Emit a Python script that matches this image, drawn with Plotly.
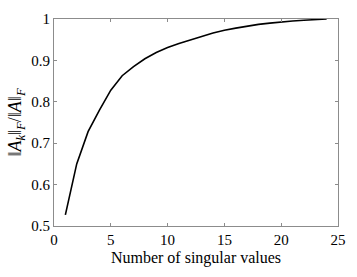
import plotly.graph_objects as go

k_values = list(range(1, 25))
ratio = [0.527, 0.650, 0.728, 0.780, 0.828, 0.863, 0.885, 0.904, 0.919, 0.931,
         0.941, 0.950, 0.958, 0.966, 0.973, 0.978, 0.983, 0.987, 0.990, 0.993,
         0.995, 0.997, 0.999, 1.000]
x_ticks = [0, 5, 10, 15, 20, 25]
y_ticks = [0.5, 0.6, 0.7, 0.8, 0.9, 1]
y_tick_text = ["0.5", "0.6", "0.7", "0.8", "0.9", "1"]

SERIF = "Liberation Serif"

fig = go.Figure()
fig.add_trace(go.Scatter(x=k_values, y=ratio, mode="lines",
                         line=dict(color="black", width=1.6), showlegend=False))

axis_common = dict(showline=True, linecolor="#8c8c8c", linewidth=1, mirror="ticks",
                   ticks="inside", ticklen=3, tickcolor="#8c8c8c", showgrid=False,
                   zeroline=False, tickfont=dict(family=SERIF, size=15, color="black"))

fig.update_xaxes(range=[0, 25], tickvals=x_ticks, ticktext=[str(t) for t in x_ticks],
                 title=dict(text="Number of singular values", standoff=4,
                            font=dict(family=SERIF, size=16, color="black")),
                 **axis_common)
fig.update_yaxes(range=[0.5, 1], tickvals=y_ticks, ticktext=y_tick_text,
                 title=dict(text="‖<i>A<sub>k</sub></i>‖<sub><i>F</i></sub>/‖<i>A</i>‖<sub><i>F</i></sub>",
                            standoff=4,
                            font=dict(family=SERIF, size=18, color="black")),
                 **axis_common)

fig.update_layout(width=357, height=277, margin=dict(l=54, r=15, t=11, b=51),
                  font=dict(family=SERIF, color="black"),
                  plot_bgcolor="white", paper_bgcolor="white")

fig.write_html("out.html", config={"displayModeBar": False},
               post_script="document.body.style.margin='0';")
